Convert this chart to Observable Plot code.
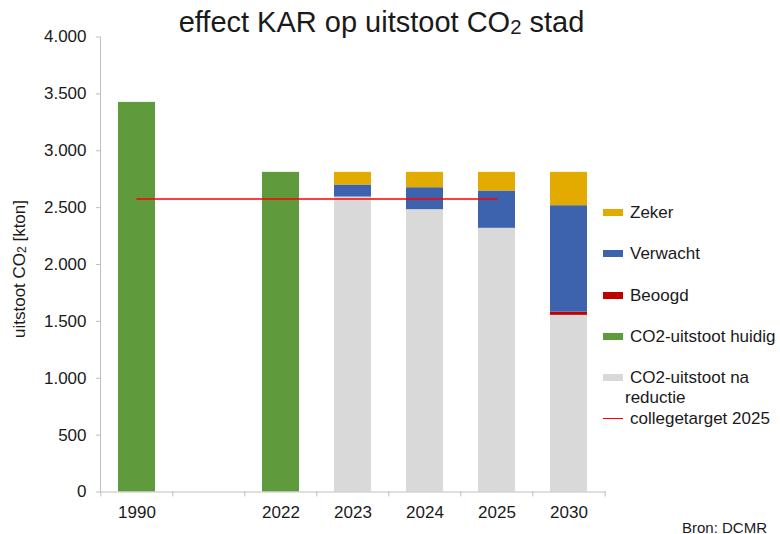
<!DOCTYPE html>
<html><head><meta charset="utf-8">
<script src="https://cdn.jsdelivr.net/npm/d3@7"></script>
<script src="https://cdn.jsdelivr.net/npm/@observablehq/plot@0.6"></script>
<style>
body{margin:0;background:#fff;font-family:"Liberation Sans",Arial,sans-serif;color:#1a1a1a}
#wrap{position:relative;width:780px;height:534px;overflow:hidden;background:#fff}
#wrap svg{position:absolute;left:0;top:0}
.abs{position:absolute;white-space:nowrap;line-height:1}
.sw{position:absolute;width:20px;height:7px}
.lt{position:absolute;white-space:nowrap;line-height:17px;font-size:17px}
.sub{font-size:0.7em;position:relative;top:0.12em}
</style></head><body><div id="wrap"></div>
<script>
// ---- data ----
const categories = ["1990", "", "2022", "2023", "2024", "2025", "2030"];
const huidig     = [3425, null, 2810, 0, 0, 0, 0];
const naReductie = [0, null, 0, 2593, 2482, 2318, 1553];
const beoogd     = [0, null, 0, 0, 0, 0, 28];
const verwacht   = [0, null, 0, 106, 193, 328, 936];
const zeker      = [0, null, 0, 111, 135, 164, 293];
const collegetarget = 2575;
const targetSpan = ["1990", "2025"];
const yTicks = [0, 500, 1000, 1500, 2000, 2500, 3000, 3500, 4000];
const seriesNames  = ["CO2-uitstoot na reductie", "CO2-uitstoot huidig", "Beoogd", "Verwacht", "Zeker"];
const seriesColors = ["#d9d9d9", "#5f9a3d", "#c00000", "#3d63ae", "#e3ab00"];
const seriesValues = [naReductie, huidig, beoogd, verwacht, zeker];

const rows = [];
seriesNames.forEach((s, si) => {
  categories.forEach((c, ci) => {
    const v = seriesValues[si][ci];
    if (v != null && v > 0) rows.push({cat: c, series: s, value: v});
  });
});
const targetRows = targetSpan.map(c => ({cat: c, value: collegetarget}));

const nl = d3.formatLocale({decimal: ",", thousands: ".", grouping: [3], currency: ["€", ""]});
const fmt = nl.format(",");

const W = 780, H = 534, mL = 100, mR = 174, mT = 36.5, mB = 42.5;
const step = (W - mL - mR) / categories.length;
const axisGray = "#bfbfbf";

const chart = Plot.plot({
  width: W, height: H,
  marginLeft: mL, marginRight: mR, marginTop: mT, marginBottom: mB,
  style: {fontFamily: "Liberation Sans, Arial, sans-serif", fontSize: "17px", color: "#1a1a1a", background: "transparent", overflow: "visible"},
  x: {domain: categories, paddingInner: 0.48, paddingOuter: 0.24, label: null},
  y: {domain: [0, 4000], label: null},
  color: {domain: seriesNames, range: seriesColors},
  marks: [
    Plot.barY(rows, {x: "cat", y: "value", fill: "series", order: seriesNames}),
    Plot.lineY(targetRows, {x: "cat", y: "value", stroke: "#ff0000", strokeWidth: 1.5}),
    Plot.frame({anchor: "left", stroke: axisGray}),
    Plot.ruleY([0], {stroke: axisGray}),
    Plot.ruleX(categories, {x: d => d, y1: 0, y2: 0, insetBottom: -5, dx: -step / 2, stroke: axisGray}),
    Plot.ruleX(categories.slice(-1), {x: d => d, y1: 0, y2: 0, insetBottom: -5, dx: step / 2, stroke: axisGray}),
    Plot.axisY({ticks: yTicks, tickFormat: fmt, tickSize: 4, tickPadding: 10, stroke: axisGray, fill: "#1a1a1a", label: null}),
    Plot.axisX({tickSize: 0, tickPadding: 14, fill: "#1a1a1a", label: null})
  ]
});
const wrap = document.getElementById("wrap");
wrap.appendChild(chart);

function add(html, cls, css) {
  const d = document.createElement("div");
  d.className = cls;
  d.innerHTML = html;
  Object.assign(d.style, css);
  wrap.appendChild(d);
  return d;
}
// title
add('effect KAR op uitstoot CO<span class="sub">2</span> stad', "abs",
    {left: "381.5px", top: "8px", transform: "translateX(-50%)", fontSize: "29px"});
// y label
add('uitstoot CO<span class="sub">2</span> [kton]', "abs",
    {left: "19px", top: "269px", transform: "translate(-50%,-50%) rotate(-90deg)", fontSize: "17px"});
// legend
const legendY = {"Zeker": 212, "Verwacht": 253, "Beoogd": 295, "CO2-uitstoot huidig": 336, "CO2-uitstoot na reductie": 377};
[...seriesNames].reverse().forEach(s => {
  const y = legendY[s];
  const color = seriesColors[seriesNames.indexOf(s)];
  add("", "sw", {left: "603px", top: (y - 3.5) + "px", background: color});
  if (s === "CO2-uitstoot na reductie") {
    add("CO2-uitstoot na", "lt", {left: "630px", top: (y - 8.5) + "px"});
    add("reductie", "lt", {left: "625px", top: (y + 20 - 8.5) + "px"});
  } else {
    add(s, "lt", {left: "630px", top: (y - 8.5) + "px"});
  }
});
add("", "sw", {left: "603px", top: "417.5px", height: "1.5px", background: "#ff0000"});
add("collegetarget 2025", "lt", {left: "630px", top: (418 - 8.5) + "px"});
// source
add("Bron: DCMR", "abs", {left: "682px", top: "519.5px", fontSize: "15px"});
</script></body></html>
